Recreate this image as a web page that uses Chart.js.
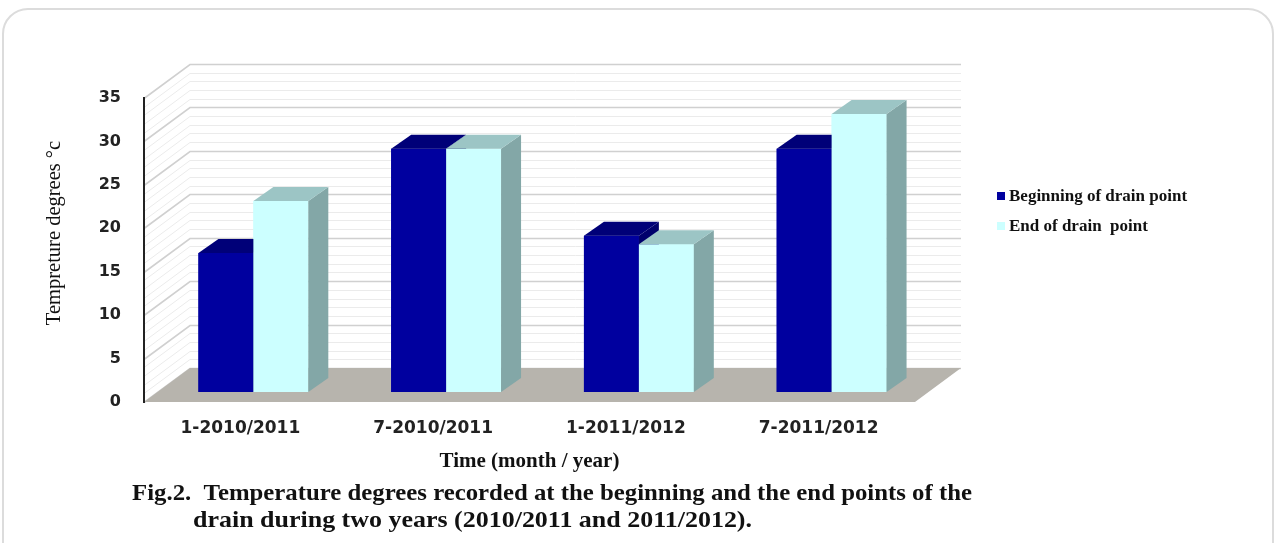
<!DOCTYPE html>
<html>
<head>
<meta charset="utf-8">
<title>Temperature degrees at drain points</title>
<script src="https://cdn.jsdelivr.net/npm/chart.js@4.4.1/dist/chart.umd.min.js"></script>
<style>
  html, body { margin: 0; padding: 0; background: #ffffff; }
  #wrap { position: relative; width: 1277px; height: 543px; overflow: hidden; }
  #frame {
    position: absolute; left: 2px; top: 8px; width: 1272px; height: 620px;
    border: 2px solid #dcdcdc; border-radius: 26px; box-sizing: border-box;
  }
  canvas { position: absolute; left: 0; top: 0; }
</style>
</head>
<body>
<div id="wrap">
  <div id="frame"></div>
  <canvas id="chart" width="1277" height="543"></canvas>
</div>
<script>
// ---- data ----
const categories = ['1-2010/2011', '7-2010/2011', '1-2011/2012', '7-2011/2012'];
const beginningValues = [16, 28, 18, 28];
const endValues = [22, 28, 17, 32];
const seriesNames = ['Beginning of drain point', 'End of drain  point'];
const yMin = 0;
const yMax = 35;
const yStep = 5;
const yMinorStep = 1;

// ---- texts ----
const xTitle = 'Time (month / year)';
const yTitle = 'Tempreture degrees \u00B0c';
const captionLines = [
  'Fig.2.  Temperature degrees recorded at the beginning and the end points of the',
  'drain during two years (2010/2011 and 2011/2012).'
];

// ---- 3D look ----
const WALL_DX = 46, WALL_DY = -34;         // depth of the walls / floor
const BAR_SHIFT_X = 13, BAR_SHIFT_Y = -10; // bars sit inside the depth
const BAR_DX = 20, BAR_DY = -14;           // depth of each bar

function poly(ctx, pts, fill) {
  ctx.beginPath();
  ctx.moveTo(pts[0][0], pts[0][1]);
  for (let i = 1; i < pts.length; i++) ctx.lineTo(pts[i][0], pts[i][1]);
  ctx.closePath();
  ctx.fillStyle = fill;
  ctx.fill();
}

// walls with grid lines and the grey floor
const wallsPlugin = {
  id: 'walls',
  beforeDraw(chart) {
    const { ctx, chartArea: a } = chart;
    const yS = chart.scales.y;
    ctx.save();
    for (let v = yMin; v <= yMax + 1e-9; v += yMinorStep) {
      const major = Math.abs(v % yStep) < 1e-9;
      const py = Math.round(yS.getPixelForValue(v)) + 0.5;
      ctx.strokeStyle = major ? '#d0d0d0' : '#ebebeb';
      ctx.lineWidth = major ? 1.6 : 1;
      ctx.beginPath();
      ctx.moveTo(a.left, py);
      ctx.lineTo(a.left + WALL_DX, py + WALL_DY);
      ctx.lineTo(a.right + WALL_DX, py + WALL_DY);
      ctx.stroke();
    }
    const y0 = yS.getPixelForValue(yMin);
    poly(ctx, [
      [a.left, y0], [a.right, y0],
      [a.right + WALL_DX, y0 + WALL_DY], [a.left + WALL_DX, y0 + WALL_DY]
    ], '#b7b4ad');
    ctx.restore();
  }
};

// bars pushed into the depth; each one gets its front, side and top faces,
// painted series by series so the nearer faces overlap correctly
const bars3dPlugin = {
  id: 'bars3d',
  beforeDatasetsDraw(chart) {
    chart.ctx.save();
    chart.ctx.translate(BAR_SHIFT_X, BAR_SHIFT_Y);
  },
  afterDatasetsDraw(chart) {
    const ctx = chart.ctx;
    chart.data.datasets.forEach((ds, i) => {
      chart.getDatasetMeta(i).data.forEach(el => {
        const { x, y, base, width } = el.getProps(['x', 'y', 'base', 'width'], true);
        const l = x - width / 2, r = x + width / 2;
        poly(ctx, [[l, y], [r, y], [r, base], [l, base]], ds.backgroundColor);
        poly(ctx, [[r, y], [r + BAR_DX, y + BAR_DY], [r + BAR_DX, base + BAR_DY], [r, base]], ds.sideColor);
        poly(ctx, [[l, y], [r, y], [r + BAR_DX, y + BAR_DY], [l + BAR_DX, y + BAR_DY]], ds.topColor);
      });
    });
    ctx.restore();
  }
};

// draws a line of text squeezed or stretched to a given width
function fitText(ctx, text, x, y, width) {
  const w = ctx.measureText(text).width;
  ctx.save();
  ctx.translate(x, y);
  ctx.scale(width / w, 1);
  ctx.fillText(text, 0, 0);
  ctx.restore();
}

// legend, vertical axis title and figure caption
const textPlugin = {
  id: 'texts',
  afterDraw(chart) {
    const { ctx, chartArea: a } = chart;
    ctx.save();
    // legend
    ctx.font = 'bold 17px "Liberation Serif"';
    ctx.textBaseline = 'middle';
    ctx.textAlign = 'left';
    chart.data.datasets.forEach((ds, i) => {
      const cy = 196 + i * 30;
      ctx.fillStyle = ds.backgroundColor;
      ctx.fillRect(997, cy - 4, 8, 8);
      ctx.fillStyle = '#111';
      ctx.fillText(ds.label, 1009, cy + 1);
    });
    // y axis title
    ctx.save();
    ctx.translate(55, (a.top + WALL_DY + a.bottom) / 2);
    ctx.rotate(-Math.PI / 2);
    ctx.font = '20.5px "Liberation Serif"';
    ctx.textAlign = 'center';
    ctx.textBaseline = 'middle';
    ctx.fillStyle = '#111';
    ctx.fillText(yTitle, 0, 0);
    ctx.restore();
    // caption
    ctx.font = 'bold 23px "Liberation Serif"';
    ctx.textBaseline = 'alphabetic';
    ctx.textAlign = 'left';
    ctx.fillStyle = '#111';
    fitText(ctx, captionLines[0], 132, 500, 840);
    fitText(ctx, captionLines[1], 193, 527, 559);
    ctx.restore();
  }
};

new Chart(document.getElementById('chart'), {
  type: 'bar',
  data: {
    labels: categories,
    datasets: [
      {
        label: seriesNames[0], data: beginningValues,
        backgroundColor: '#00009f', topColor: '#000078', sideColor: '#00006c',
        clip: false
      },
      {
        label: seriesNames[1], data: endValues,
        backgroundColor: '#ccffff', topColor: '#9cc5c5', sideColor: '#83a7a7',
        clip: false
      }
    ]
  },
  options: {
    responsive: false,
    animation: false,
    devicePixelRatio: 1,
    events: [],
    layout: { padding: { left: 0, right: 1277 - 915, top: 98, bottom: 543 - 402 - 80 } },
    datasets: { bar: { barPercentage: 1, categoryPercentage: 0.57, borderWidth: 0 } },
    plugins: { legend: { display: false }, tooltip: { enabled: false } },
    scales: {
      x: {
        offset: true,
        grid: { display: false, drawTicks: false },
        border: { display: false },
        ticks: {
          font: { family: 'DejaVu Sans', size: 17, weight: 'bold' },
          color: '#222', padding: 16, maxRotation: 0, autoSkip: false
        },
        title: {
          display: true, text: xTitle, color: '#111',
          font: { family: 'Liberation Serif', size: 21, weight: 'bold' },
          padding: { top: 0, bottom: 8 }
        },
        afterFit(s) { s.height = 80; }
      },
      y: {
        min: yMin, max: yMax,
        grid: { display: false, drawTicks: false },
        border: { display: true, color: '#222', width: 2 },
        ticks: {
          stepSize: yStep, padding: 23, color: '#222',
          font: { family: 'DejaVu Sans', size: 16, weight: 'bold' }
        },
        afterFit(s) { s.width = 144; }
      }
    }
  },
  plugins: [wallsPlugin, bars3dPlugin, textPlugin]
});
</script>
</body>
</html>
